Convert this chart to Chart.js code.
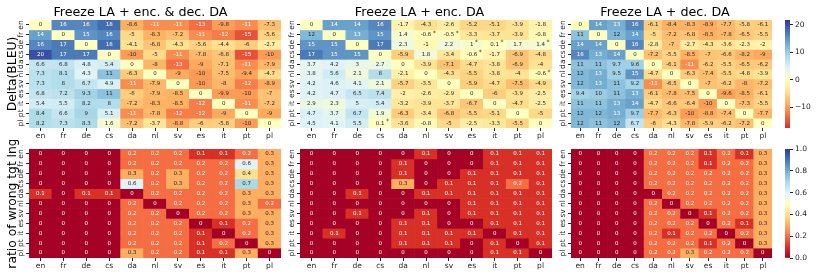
<!DOCTYPE html>
<html>
<head>
<meta charset="utf-8">
<script src="https://cdn.jsdelivr.net/npm/chart.js@4.4.1/dist/chart.umd.min.js"></script>
<style>
    html, body { margin: 0; padding: 0; background: #fff; }
    #fig { position: relative; width: 830px; height: 277px; overflow: hidden; }
    canvas { position: absolute; }
</style>
</head>
<body>
<div id="fig">
    <canvas id="deltaEncDecChart" width="310" height="147" style="left:0;top:0"></canvas>
    <canvas id="deltaEncChart" width="278" height="147" style="left:287px;top:0"></canvas>
    <canvas id="deltaDecChart" width="227" height="147" style="left:558px;top:0"></canvas>
    <canvas id="deltaBar" width="50" height="147" style="left:780px;top:0"></canvas>
    <canvas id="wrongEncDecChart" width="310" height="137" style="left:0;top:140px"></canvas>
    <canvas id="wrongEncChart" width="278" height="137" style="left:287px;top:140px"></canvas>
    <canvas id="wrongDecChart" width="227" height="137" style="left:558px;top:140px"></canvas>
    <canvas id="wrongBar" width="50" height="137" style="left:780px;top:140px"></canvas>
</div>
<script>
const langs = ["en", "fr", "de", "cs", "da", "nl", "sv", "es", "it", "pt", "pl"];

// Delta(BLEU), rows = source language, cols = target language
const deltaEncDec = [
    [0, 16, 16, 18, -8.6, -11, -11, -13, -9.8, -11, -7.3],
    [14, 0, 15, 16, -5, -8.3, -7.2, -11, -12, -15, -5.6],
    [16, 17, 0, 18, -4.1, -6.8, -4.3, -5.6, -4.4, -6, -2.7],
    [20, 17, 17, 0, -10, -5, -11, -7.8, -6.8, -15, -10],
    [6.6, 6.8, 4.8, 5.4, 0, -8, -13, -9, -7.1, -11, -7.9],
    [7.3, 8.1, 4.3, 11, -6.3, 0, -9, -10, -7.5, -9.4, -4.7],
    [7.3, 8, 6.7, 4.9, -11, -7.9, 0, -10, -8, -12, -8.9],
    [6.8, 7.2, 9.3, 11, -6, -7.9, -8.5, 0, -9.9, -10, -7],
    [5.4, 5.5, 8.2, 8, -7.2, -8.3, -8.5, -12, 0, -11, -7.2],
    [8.4, 6.6, 9, 5.1, -11, -7.8, -12, -12, -9, 0, -9],
    [8.2, 7.3, 8.3, 1.6, -7.2, -3.7, -8.8, -6, -5.8, -10, 0]
];
const deltaEnc = [
    [0, 14, 14, 16, -1.7, -4.3, -2.6, -5.2, -5.1, -3.9, -1.8],
    [12, 0, 13, 15, 1.4, -0.6, -0.5, -3.3, -3.7, -3.9, -0.8],
    [15, 15, 0, 17, 2.3, -1, 2.2, 1, 0.1, 1.7, 1.4],
    [17, 15, 15, 0, -5.9, 1.8, -3.4, -0.6, -1.7, -6.9, -4.8],
    [3.7, 4.2, 3, 2.7, 0, -3.9, -7.1, -4.7, -3.8, -6.9, -4],
    [3.8, 5.6, 2.1, 8, -2.1, 0, -4.3, -5.5, -3.8, -4, -0.6],
    [4.2, 4.6, 4.1, 2.1, -5.7, -3.5, 0, -5.9, -4.7, -7.5, -4.9],
    [4.2, 4.7, 6.5, 7.4, -2, -2.6, -2.9, 0, -6, -3.9, -2.5],
    [2.9, 2.3, 5, 5.4, -3.2, -3.9, -3.7, -6.7, 0, -4.7, -2.5],
    [4.7, 3.7, 6.7, 1.9, -6.3, -3.4, -6.8, -5.5, -5.1, 0, -5],
    [4.5, 4.1, 5.5, 0.1, -3.6, -0.8, -5, -2.5, -3.3, -5.5, 0]
];
const deltaDec = [
    [0, 14, 13, 16, -6.1, -8.4, -8.3, -8.9, -7.7, -5.8, -6.1],
    [11, 0, 12, 14, -5, -7.2, -6.8, -8.5, -7.8, -6.5, -5.5],
    [14, 14, 0, 16, -2.8, -7, -2.7, -4.3, -3.6, -2.3, -2],
    [16, 13, 14, 0, -7.2, -5.5, -8.5, -7, -6.6, -8.2, -9],
    [11, 11, 9.7, 9.6, 0, -6.1, -11, -6.2, -5.5, -6.5, -6.2],
    [12, 13, 9.5, 15, -4.7, 0, -6.3, -7.4, -5.5, -4.8, -3.9],
    [12, 13, 11, 9.2, -11, -6.5, 0, -7, -6.2, -8, -7.2],
    [9.4, 10, 11, 13, -6.1, -7.8, -7.5, 0, -9.6, -8.5, -6.1],
    [11, 11, 13, 14, -4.7, -6.6, -6.4, -10, 0, -7.3, -5.5],
    [12, 12, 13, 9.7, -7.7, -6.3, -10, -8.8, -7.4, 0, -7.7],
    [12, 11, 12, 6.7, -6, -4.3, -7.8, -5.9, -6.2, -7.2, 0]
];
// cells marked with * in the enc. DA panel: [row, col]
const encStars = [[1, 5], [1, 6], [2, 7], [2, 8], [2, 10], [3, 7], [5, 10], [10, 3]];

// ratio of wrong target language
const wrongEncDec = [
    [0, 0, 0, 0, 0.2, 0.2, 0.2, 0.1, 0.1, 0.2, 0.3],
    [0, 0, 0, 0, 0.2, 0.2, 0.2, 0.2, 0.2, 0.6, 0.3],
    [0, 0, 0, 0, 0.3, 0.2, 0.3, 0.2, 0.2, 0.4, 0.3],
    [0, 0, 0, 0, 0.6, 0.2, 0.3, 0.2, 0.2, 0.7, 0.3],
    [0.1, 0, 0.1, 0.1, 0, 0.2, 0.2, 0.2, 0.2, 0.3, 0.3],
    [0, 0, 0, 0, 0.2, 0, 0.2, 0.2, 0.2, 0.3, 0.2],
    [0, 0, 0, 0, 0.2, 0.2, 0, 0.2, 0.2, 0.3, 0.3],
    [0, 0, 0, 0, 0.2, 0.2, 0.2, 0, 0.1, 0.2, 0.3],
    [0, 0, 0, 0, 0.2, 0.2, 0.2, 0.1, 0, 0.2, 0.3],
    [0, 0, 0, 0, 0.2, 0.2, 0.2, 0.1, 0.2, 0, 0.3],
    [0, 0, 0, 0, 0.3, 0.2, 0.2, 0.1, 0.1, 0.3, 0]
];
const wrongEnc = [
    [0, 0, 0, 0, 0, 0.1, 0, 0, 0.1, 0.1, 0.1],
    [0, 0, 0, 0, 0.1, 0, 0, 0, 0.1, 0.1, 0.1],
    [0, 0, 0, 0, 0.1, 0, 0, 0.1, 0.1, 0.1, 0.1],
    [0, 0, 0, 0, 0.3, 0, 0.1, 0.1, 0.1, 0.2, 0.1],
    [0, 0, 0.1, 0, 0, 0.1, 0.1, 0.1, 0.1, 0.1, 0.1],
    [0, 0, 0, 0, 0, 0, 0, 0.1, 0.1, 0.1, 0.1],
    [0, 0, 0.1, 0, 0, 0.1, 0, 0.1, 0.1, 0.1, 0.1],
    [0, 0, 0, 0, 0.1, 0.1, 0, 0, 0.1, 0.1, 0.1],
    [0, 0.1, 0, 0, 0.1, 0.1, 0.1, 0.1, 0, 0.1, 0.1],
    [0, 0, 0, 0, 0.1, 0.1, 0.1, 0, 0.1, 0, 0.1],
    [0, 0, 0, 0, 0, 0, 0, 0, 0.1, 0.1, 0]
];
const wrongDec = [
    [0, 0, 0, 0, 0.2, 0.2, 0.2, 0.1, 0.2, 0.1, 0.3],
    [0, 0, 0, 0, 0.2, 0.2, 0.2, 0.1, 0.2, 0.2, 0.3],
    [0, 0, 0, 0, 0.2, 0.2, 0.2, 0.2, 0.2, 0.2, 0.3],
    [0, 0, 0, 0, 0.2, 0.2, 0.2, 0.2, 0.2, 0.2, 0.3],
    [0, 0, 0, 0, 0, 0.2, 0.2, 0.2, 0.2, 0.2, 0.3],
    [0, 0, 0, 0, 0.2, 0, 0.2, 0.2, 0.2, 0.2, 0.3],
    [0, 0, 0, 0, 0.2, 0.2, 0, 0.1, 0.2, 0.2, 0.3],
    [0, 0, 0, 0, 0.2, 0.2, 0.2, 0, 0.2, 0.1, 0.3],
    [0, 0, 0, 0, 0.2, 0.1, 0.2, 0.2, 0, 0.2, 0.3],
    [0, 0, 0, 0, 0.2, 0.2, 0.2, 0.1, 0.2, 0, 0.3],
    [0, 0, 0, 0, 0.2, 0.2, 0.3, 0.2, 0.2, 0.2, 0]
];

const deltaLimits = [-17.5, 21.8];
const deltaTicks = [-10, 0, 10, 20];
const wrongLimits = [0, 1];
const wrongTicks = [0, 0.2, 0.4, 0.6, 0.8, 1];

Chart.defaults.font.family = "'DejaVu Sans', sans-serif";
const ink = "#262626";

// matplotlib RdYlBu
const rdylbu = ["#a50026", "#d73027", "#f46d43", "#fdae61", "#fee090", "#ffffbf",
    "#e0f3f8", "#abd9e9", "#74add1", "#4575b4", "#313695"]
    .map((h) => [1, 3, 5].map((k) => parseInt(h.slice(k, k + 2), 16)));

function cmap(t) {
    t = Math.min(1, Math.max(0, t));
    const p = t * 10;
    const i = Math.min(9, Math.floor(p));
    const f = p - i;
    return rdylbu[i].map((c, k) => Math.round(c + (rdylbu[i + 1][k] - c) * f));
}
const css = (rgb) => `rgb(${rgb[0]},${rgb[1]},${rgb[2]})`;

// seaborn centers the map at 0
const deltaColor = (v) => cmap((v + deltaLimits[1]) / (2 * deltaLimits[1]));
const wrongColor = (v) => cmap(v);

function luminance(rgb) {
    const lin = rgb.map((c) => {
        c /= 255;
        return c <= 0.03928 ? c / 12.92 : Math.pow((c + 0.055) / 1.055, 2.4);
    });
    return 0.2126 * lin[0] + 0.7152 * lin[1] + 0.0722 * lin[2];
}

const cellText = {
    id: "cellText",
    afterDatasetsDraw(chart, args, o) {
        const ctx = chart.ctx;
        ctx.save();
        ctx.textBaseline = "middle";
        chart.data.datasets.forEach((ds, i) => {
            chart.getDatasetMeta(i).data.forEach((bar, j) => {
                const v = o.values[i][j];
                const label = String(v);
                const cy = (bar.y + bar.base) / 2;
                ctx.fillStyle = luminance(o.color(v)) > 0.408 ? ink : "#ffffff";
                ctx.font = "5.5px 'DejaVu Sans'";
                ctx.textAlign = "center";
                ctx.fillText(label, bar.x, cy);
                if (o.stars.some((s) => s[0] === i && s[1] === j)) {
                    const w = ctx.measureText(label).width;
                    ctx.textAlign = "left";
                    ctx.font = "6px 'DejaVu Sans'";
                    ctx.fillText("*", bar.x + w / 2 + 1.5, cy - 1.8);
                }
            });
        });
        ctx.restore();
    }
};

function heatmap(id, values, cfg) {
    return new Chart(document.getElementById(id), {
        type: "bar",
        data: {
            labels: langs,
            datasets: values.map((row) => ({
                data: row.map(() => 1),
                backgroundColor: row.map((v) => css(cfg.color(v))),
                borderWidth: 0,
                barPercentage: 1,
                categoryPercentage: 1
            }))
        },
        options: {
            responsive: false,
            animation: false,
            events: [],
            layout: { padding: { left: 0, right: cfg.axisW, top: cfg.title ? 0 : 9, bottom: 0 } },
            plugins: {
                legend: { display: false },
                tooltip: { enabled: false },
                title: {
                    display: !!cfg.title,
                    text: cfg.title || "",
                    color: "#000",
                    font: { size: 12.7, weight: "normal" },
                    padding: { top: 4.8, bottom: 0 }
                },
                cellText: { values, stars: cfg.stars || [], color: cfg.color }
            },
            scales: {
                x: {
                    stacked: true,
                    border: { display: false },
                    grid: { drawOnChartArea: false, offset: false, tickLength: 3, color: ink },
                    ticks: { color: ink, font: { size: 7.5 }, padding: 1, maxRotation: 0, autoSkip: false },
                    afterFit: (s) => { s.height = 19; }
                },
                y: {
                    stacked: true,
                    reverse: true,
                    min: 0,
                    max: langs.length,
                    border: { display: false },
                    grid: { drawOnChartArea: false, tickLength: 3, color: ink },
                    afterBuildTicks: (s) => { s.ticks = langs.map((l, i) => ({ value: i + 0.5 })); },
                    ticks: {
                        callback: (v, i) => langs[i],
                        color: ink,
                        font: { size: 7.5 },
                        minRotation: 90,
                        maxRotation: 90,
                        crossAlign: "center",
                        padding: 0,
                        autoSkip: false
                    },
                    title: {
                        display: !!cfg.yTitle,
                        text: cfg.yTitle || "",
                        color: "#000",
                        font: { size: 12.3 },
                        padding: { top: 5.6, bottom: 0 }
                    },
                    afterFit: (s) => { s.width = cfg.axisW; }
                }
            }
        },
        plugins: [cellText]
    });
}

function colorbar(id, limits, ticks, color, fmt, top) {
    const [lo, hi] = limits;
    const chart = new Chart(document.getElementById(id), {
        type: "bar",
        data: {
            labels: [""],
            datasets: [{
                data: [[lo, hi]],
                borderWidth: 0,
                barPercentage: 1,
                categoryPercentage: 1,
                backgroundColor: (c) => {
                    const ys = c.chart.scales.y;
                    const y0 = ys ? ys.getPixelForValue(lo) : NaN;
                    const y1 = ys ? ys.getPixelForValue(hi) : NaN;
                    if (!Number.isFinite(y0) || !Number.isFinite(y1)) return "#ffffff";
                    const g = c.chart.ctx.createLinearGradient(0, y0, 0, y1);
                    for (let k = 0; k <= 40; k++) {
                        g.addColorStop(k / 40, css(color(lo + (hi - lo) * k / 40)));
                    }
                    return g;
                }
            }]
        },
        options: {
            responsive: false,
            animation: false,
            events: [],
            layout: { padding: { left: 5, right: 0, top: top, bottom: 19 } },
            plugins: { legend: { display: false }, tooltip: { enabled: false } },
            scales: {
                x: { display: false },
                y: {
                    position: "right",
                    min: lo,
                    max: hi,
                    border: { display: false },
                    grid: { drawOnChartArea: false, tickLength: 3, color: ink },
                    afterBuildTicks: (s) => { s.ticks = ticks.map((v) => ({ value: v })); },
                    ticks: { callback: fmt, color: ink, font: { size: 7.5 }, padding: 2, autoSkip: false },
                    afterFit: (s) => { s.width = 40; }
                }
            }
        }
    });
    // the gradient needs the scale laid out, so draw once more
    chart.update();
    return chart;
}

heatmap("deltaEncDecChart", deltaEncDec, { color: deltaColor, axisW: 29, title: "Freeze LA + enc. & dec. DA", yTitle: "Delta(BLEU)" });
heatmap("deltaEncChart", deltaEnc, { color: deltaColor, axisW: 13, title: "Freeze LA + enc. DA", stars: encStars });
heatmap("deltaDecChart", deltaDec, { color: deltaColor, axisW: 13, title: "Freeze LA + dec. DA" });
heatmap("wrongEncDecChart", wrongEncDec, { color: wrongColor, axisW: 29, yTitle: "ratio of wrong tgt lng" });
heatmap("wrongEncChart", wrongEnc, { color: wrongColor, axisW: 13 });
heatmap("wrongDecChart", wrongDec, { color: wrongColor, axisW: 13 });

colorbar("deltaBar", deltaLimits, deltaTicks, deltaColor, (v) => (v < 0 ? "\u2212" + Math.abs(v) : String(v)), 20);
colorbar("wrongBar", wrongLimits, wrongTicks, wrongColor, (v) => v.toFixed(1), 9);
</script>
</body>
</html>
